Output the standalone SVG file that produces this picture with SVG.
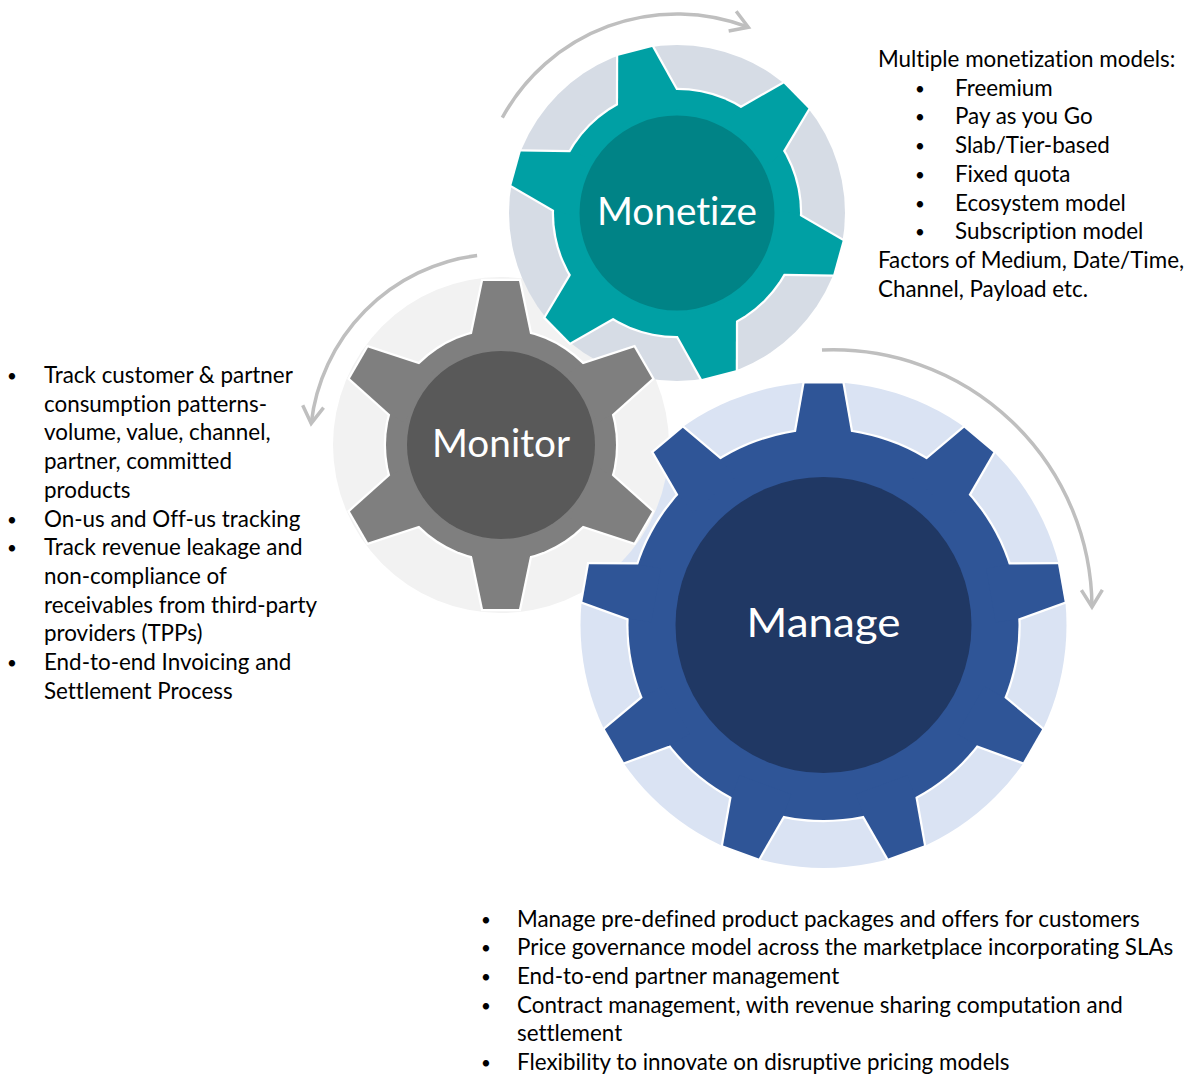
<svg xmlns="http://www.w3.org/2000/svg" xmlns:xlink="http://www.w3.org/1999/xlink" width="1194" height="1074" viewBox="0 0 1194 1074">
<defs>
<style>
.t{font-family:Lato,"Liberation Sans",sans-serif;font-size:22.4px;fill:#000;font-variant-ligatures:none}
.b{text-anchor:middle;font-size:17px}
.lbl{font-family:Lato,"Liberation Sans",sans-serif;fill:#fff;text-anchor:middle;font-variant-ligatures:none}
.arc{fill:none;stroke:#BFBFBF;stroke-width:3.5}
.ol{fill:#fff;stroke:#fff;stroke-width:4.5;stroke-linejoin:miter}
</style>
<polygon id="toothA" points="-30,-100 -30,-119.3 -17.5,-167 17.5,-167 30,-119.3 30,-100"/>
<polygon id="toothB" points="-29,-95 -29,-111.3 -18,-164 18,-164 29,-111.3 29,-95"/>
<polygon id="toothC" points="-27.5,-170 -27.5,-193 -19,-241.5 19,-241.5 27.5,-193 27.5,-170"/>
<g id="gearA">
<circle r="123"/>
<use xlink:href="#toothA" transform="rotate(-14.5)"/>
<use xlink:href="#toothA" transform="rotate(45.5)"/>
<use xlink:href="#toothA" transform="rotate(105.5)"/>
<use xlink:href="#toothA" transform="rotate(165.5)"/>
<use xlink:href="#toothA" transform="rotate(225.5)"/>
<use xlink:href="#toothA" transform="rotate(285.5)"/>
</g>
<g id="gearB">
<circle r="115"/>
<use xlink:href="#toothB"/>
<use xlink:href="#toothB" transform="rotate(60)"/>
<use xlink:href="#toothB" transform="rotate(120)"/>
<use xlink:href="#toothB" transform="rotate(180)"/>
<use xlink:href="#toothB" transform="rotate(240)"/>
<use xlink:href="#toothB" transform="rotate(300)"/>
</g>
<g id="gearC">
<circle r="195"/>
<use xlink:href="#toothC"/>
<use xlink:href="#toothC" transform="rotate(40)"/>
<use xlink:href="#toothC" transform="rotate(80)"/>
<use xlink:href="#toothC" transform="rotate(120)"/>
<use xlink:href="#toothC" transform="rotate(160)"/>
<use xlink:href="#toothC" transform="rotate(200)"/>
<use xlink:href="#toothC" transform="rotate(240)"/>
<use xlink:href="#toothC" transform="rotate(280)"/>
<use xlink:href="#toothC" transform="rotate(320)"/>
</g>
<marker id="chev" markerUnits="userSpaceOnUse" markerWidth="30" markerHeight="30" refX="0" refY="0" viewBox="-25 -15 30 30" orient="auto" overflow="visible">
<path d="M-17,-10.5 L0,0 L-17,10.5" fill="none" stroke="#BFBFBF" stroke-width="3.5"/>
</marker>
</defs>
<rect width="1194" height="1074" fill="#fff"/>

<g id="backdrops">
<circle cx="823.5" cy="625" r="243" fill="#DAE3F3"/>
<circle cx="501" cy="445" r="168" fill="#F2F2F2"/>
<circle cx="677" cy="213" r="168" fill="#D6DCE5"/>
</g>

<g id="connectors">
<path class="arc" d="M502.3,117.7 A199,199 0 0 1 748.3,27.2" marker-end="url(#chev)"/>
<path class="arc" d="M477.1,255.5 A191,191 0 0 0 311.2,423.4" marker-end="url(#chev)"/>
<path class="arc" d="M822,350 A259,259 0 0 1 1092,607" marker-end="url(#chev)"/>
</g>

<g id="monetize" transform="translate(677,213)">
<use xlink:href="#gearA" class="ol"/>
<use xlink:href="#gearA" fill="#00A0A4"/>
<circle r="97.5" fill="#008386"/>
<text class="lbl" y="12" font-size="38" textLength="160" lengthAdjust="spacingAndGlyphs">Monetize</text>
</g>

<g id="monitor" transform="translate(501,445)">
<use xlink:href="#gearB" class="ol"/>
<use xlink:href="#gearB" fill="#7F7F7F"/>
<circle r="94" fill="#595959"/>
<text class="lbl" y="12" font-size="38" textLength="138" lengthAdjust="spacingAndGlyphs">Monitor</text>
</g>

<g id="manage" transform="translate(823.5,625)">
<use xlink:href="#gearC" class="ol"/>
<use xlink:href="#gearC" fill="#2F5597"/>
<circle r="148" fill="#203864"/>
<text class="lbl" y="12" font-size="40" textLength="154" lengthAdjust="spacingAndGlyphs">Manage</text>
</g>

<g id="monetize-notes" class="t">
<text x="878" y="67">Multiple monetization models:</text>
<text class="b" x="920" y="94.7">•</text><text x="955" y="95.7">Freemium</text>
<text class="b" x="920" y="123.4">•</text><text x="955" y="124.4">Pay as you Go</text>
<text class="b" x="920" y="152.1">•</text><text x="955" y="153.1">Slab/Tier-based</text>
<text class="b" x="920" y="180.8">•</text><text x="955" y="181.8">Fixed quota</text>
<text class="b" x="920" y="209.5">•</text><text x="955" y="210.5">Ecosystem model</text>
<text class="b" x="920" y="238.2">•</text><text x="955" y="239.2">Subscription model</text>
<text x="878" y="267.9">Factors of Medium, Date/Time,</text>
<text x="878" y="296.6">Channel, Payload etc.</text>
</g>

<g id="monitor-notes" class="t">
<text class="b" x="12" y="382">•</text><text x="44" y="383">Track customer &amp; partner</text>
<text x="44" y="411.7">consumption patterns-</text>
<text x="44" y="440.4">volume, value, channel,</text>
<text x="44" y="469.1">partner, committed</text>
<text x="44" y="497.8">products</text>
<text class="b" x="12" y="525.5">•</text><text x="44" y="526.5">On-us and Off-us tracking</text>
<text class="b" x="12" y="554.2">•</text><text x="44" y="555.2">Track revenue leakage and</text>
<text x="44" y="583.9">non-compliance of</text>
<text x="44" y="612.6">receivables from third-party</text>
<text x="44" y="641.3">providers (TPPs)</text>
<text class="b" x="12" y="669">•</text><text x="44" y="670">End-to-end Invoicing and</text>
<text x="44" y="698.7">Settlement Process</text>
</g>

<g id="manage-notes" class="t">
<text class="b" x="486" y="925.5">•</text><text x="517" y="926.5">Manage pre-defined product packages and offers for customers</text>
<text class="b" x="486" y="954.2">•</text><text x="517" y="955.2">Price governance model across the marketplace incorporating SLAs</text>
<text class="b" x="486" y="982.9">•</text><text x="517" y="983.9">End-to-end partner management</text>
<text class="b" x="486" y="1011.6">•</text><text x="517" y="1012.6">Contract management, with revenue sharing computation and</text>
<text x="517" y="1041.3">settlement</text>
<text class="b" x="486" y="1069">•</text><text x="517" y="1070">Flexibility to innovate on disruptive pricing models</text>
</g>
</svg>
